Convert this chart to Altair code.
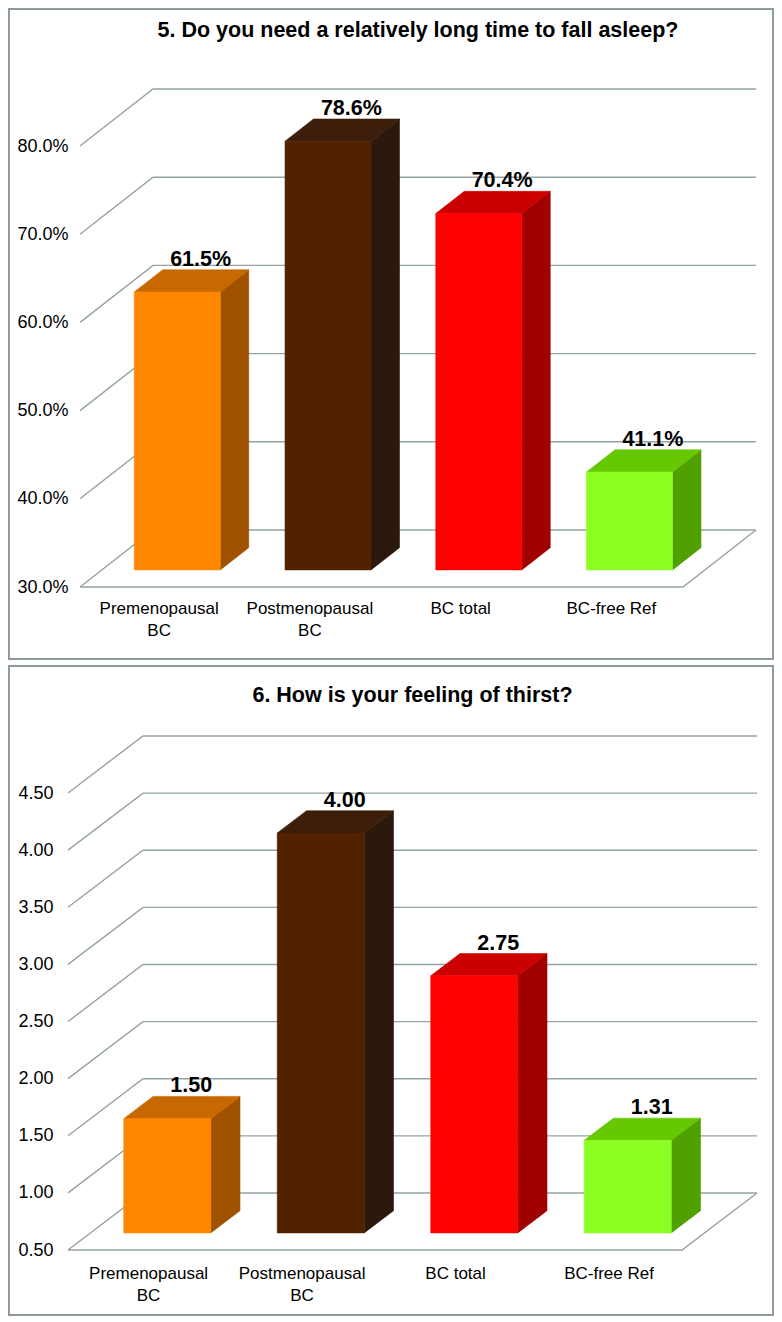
import altair as alt
import pandas as pd

# ---------------- data ----------------
categories = ["Premenopausal\nBC", "Postmenopausal\nBC", "BC total", "BC-free Ref"]

q5_title = "5. Do you need a relatively long time to fall asleep?"
q5_values = [61.5, 78.6, 70.4, 41.1]
q5_ticks = [30, 40, 50, 60, 70, 80]

q6_title = "6. How is your feeling of thirst?"
q6_values = [1.50, 4.00, 2.75, 1.31]
q6_ticks = [0.5, 1.0, 1.5, 2.0, 2.5, 3.0, 3.5, 4.0, 4.5]

# ---------------- styles ----------------
front_colors = ["#FF8800", "#522200", "#FF0000", "#8CFF22"]
top_colors = ["#C86800", "#3C1E0A", "#CC0000", "#66C800"]
side_colors = ["#A05200", "#2C180C", "#A00000", "#50A000"]
GRID = "#95A3A3"
FRAME = "#8E9C98"
FONT = "Liberation Sans, Arial, Helvetica, sans-serif"
W = 764
X0 = 9  # page x of the view's left edge

geo1 = dict(fl=80, fr=683, dx=73, dy=57, floor_px=578, ppu=8.82, H=650,
            lab_right=59, title_dy=28, cat_dy=14, bar_px=86,
            fmt=".1f", suffix="%", axis_expr="format(datum.value, '.1f') + '%'")
geo2 = dict(fl=68, fr=682, dx=75, dy=57, floor_px=584, ppu=114.25, H=649,
            lab_right=44, title_dy=36, cat_dy=16, bar_px=87,
            fmt=".2f", suffix="", axis_expr="format(datum.value, '.2f')")

F0, F1 = 0.30, 0.69


def panel(title, values, ticks, g):
    n = len(categories)
    pitch = (g["fr"] - g["fl"]) / n
    to_u = lambda view_px: (view_px - (g["fl"] - X0)) / pitch - 0.5
    vmin = ticks[0]
    H = g["H"]
    ymin = vmin - (H - g["floor_px"]) / g["ppu"]
    ymax = vmin + g["floor_px"] / g["ppu"]
    DXu = g["dx"] / pitch
    DYv = g["dy"] / g["ppu"]
    bw = g["bar_px"] / pitch
    dxb = (F1 - F0) * DXu

    xs = alt.Scale(domain=[to_u(0), to_u(W)], nice=False, zero=False)
    ys = alt.Scale(domain=[ymin, ymax], nice=False, zero=False)
    yaxis = alt.Axis(values=ticks, labelExpr=g["axis_expr"], domain=False, ticks=False,
                     tickSize=0, grid=False, labelPadding=2, offset=-(g["lab_right"] + 2),
                     labelFontSize=18, labelFont=FONT, labelColor="black", title=None,
                     labelOverlap=False, labelFlush=False)

    def X(f="x"):
        return alt.X(f + ":Q", scale=xs, axis=None)

    def Y(f="y"):
        return alt.Y(f + ":Q", scale=ys, axis=yaxis, stack=None)

    # grid lines (3D wall) and floor
    rows = []
    left, right = -0.5, n - 0.5
    for v in ticks:
        rows += [dict(x=left, y=v, pid=f"g{v}", o=0),
                 dict(x=left + DXu, y=v + DYv, pid=f"g{v}", o=1),
                 dict(x=right + DXu, y=v + DYv, pid=f"g{v}", o=2)]
    rows += [dict(x=left, y=vmin, pid="floor", o=0),
             dict(x=right, y=vmin, pid="floor", o=1),
             dict(x=right + DXu, y=vmin + DYv, pid="floor", o=2)]
    grid = alt.Chart(pd.DataFrame(rows)).mark_line(color=GRID, strokeWidth=1.4).encode(
        x=X(), y=Y(), detail="pid:N", order="o:Q")

    front, side, top, vlab, clab = [], [], [], [], []
    for i, (cat, v) in enumerate(zip(categories, values)):
        c = i + F0 * DXu
        xl, xr = c - bw / 2, c + bw / 2
        b0, b1 = vmin + F0 * DYv, vmin + F1 * DYv
        t0, t1 = v + F0 * DYv, v + F1 * DYv
        front.append(dict(x=xl, x2=xr, y=b0, y2=t0, fill=front_colors[i]))
        side += [dict(x=xr, y=t0, y2=b0, pid=i, fill=side_colors[i]),
                 dict(x=xr + dxb, y=t1, y2=b1, pid=i, fill=side_colors[i])]
        top += [dict(x=xl, y=t0, y2=t0, pid=i, fill=top_colors[i]),
                dict(x=xl + dxb, y=t1, y2=t0, pid=i, fill=top_colors[i]),
                dict(x=xr, y=t1, y2=t0, pid=i, fill=top_colors[i]),
                dict(x=xr + dxb, y=t1, y2=t1, pid=i, fill=top_colors[i])]
        vlab.append(dict(x=c + 0.32 * DXu, y=t1, label=format(v, g["fmt"]) + g["suffix"]))
        clab.append(dict(x=i + 0.025, y=vmin, label=cat))

    side_ch = alt.Chart(pd.DataFrame(side)).mark_area(strokeWidth=0.6, interpolate="linear").encode(
        x=X(), y=Y(), y2="y2:Q", detail="pid:N",
        fill=alt.Fill("fill:N", scale=None), stroke=alt.Stroke("fill:N", scale=None))
    top_ch = alt.Chart(pd.DataFrame(top)).mark_area(strokeWidth=0.6, interpolate="linear").encode(
        x=X(), y=Y(), y2="y2:Q", detail="pid:N",
        fill=alt.Fill("fill:N", scale=None), stroke=alt.Stroke("fill:N", scale=None))
    front_ch = alt.Chart(pd.DataFrame(front)).mark_rect(strokeWidth=0.6).encode(
        x=X(), x2="x2:Q", y=Y(), y2="y2:Q",
        fill=alt.Fill("fill:N", scale=None), stroke=alt.Stroke("fill:N", scale=None))

    vlab_ch = alt.Chart(pd.DataFrame(vlab)).mark_text(
        font=FONT, fontSize=21.5, fontWeight="bold", color="black",
        baseline="alphabetic", align="center", dy=-4).encode(x=X(), y=Y(), text="label:N")
    clab_ch = alt.Chart(pd.DataFrame(clab)).mark_text(
        font=FONT, fontSize=17, color="black", baseline="top", align="center",
        dy=g["cat_dy"], lineBreak="\n", lineHeight=22).encode(x=X(), y=Y(), text="label:N")
    title_ch = alt.Chart(pd.DataFrame([dict(x=(left + right + DXu) / 2, y=ymax, label=title)])).mark_text(
        font=FONT, fontSize=21.5, fontWeight="bold", color="black", baseline="alphabetic",
        align="center", dy=g["title_dy"]).encode(x=X(), y=Y(), text="label:N")

    return alt.layer(grid, side_ch, top_ch, front_ch, vlab_ch, clab_ch, title_ch).properties(
        width=W, height=H)


p1 = panel(q5_title, q5_values, q5_ticks, geo1)
p2 = panel(q6_title, q6_values, q6_ticks, geo2)

chart = alt.vconcat(p1, p2, spacing=5).properties(padding=0).configure_view(
    stroke=FRAME, strokeWidth=2)

chart.save("out.html", embed_options={"renderer": "svg", "actions": False})
